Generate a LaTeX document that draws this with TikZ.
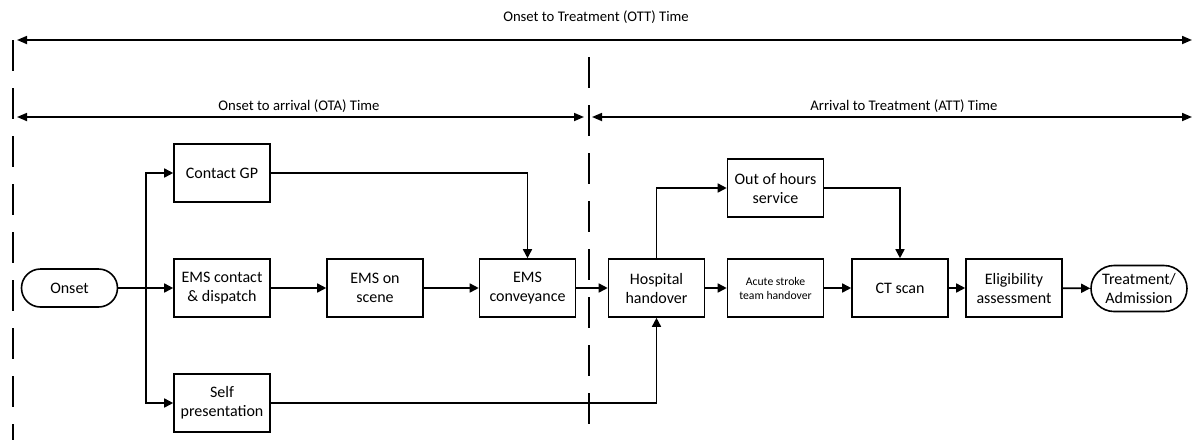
\documentclass[tikz,border=0pt]{standalone}
\usepackage{fontspec}
\setmainfont{Carlito}
\usetikzlibrary{arrows.meta}
\begin{document}
\begin{tikzpicture}[x=1pt,y=-1pt,
  line width=1.6pt,
  box/.style={draw,line width=1.6pt,minimum width=96pt,minimum height=58pt,align=center,inner sep=1pt,font=\fontsize{16}{19}\selectfont},
  pill/.style={draw,line width=1.6pt,rounded corners=19pt,minimum width=96pt,minimum height=38pt,align=center,inner sep=1pt,font=\fontsize{16}{19}\selectfont},
  flow/.style={-{Triangle[length=9pt,width=9pt]},line width=1.6pt},
  span/.style={{Triangle[length=10pt,width=8pt]}-{Triangle[length=10pt,width=8pt]},line width=1.7pt},
  divider/.style={line width=1.7pt,dash pattern=on 31pt off 17pt},
  lbl/.style={font=\fontsize{14.7}{17}\selectfont,inner sep=0pt}]
\useasboundingbox (0,0) rectangle (1193,445);

% time spans
\coordinate (ottL) at (17,40);
\coordinate (ottR) at (1192,40);
\coordinate (otaL) at (17,117);
\coordinate (otaR) at (584,117);
\coordinate (attL) at (592,117);
\coordinate (attR) at (1192,117);
\draw[span] (ottL) -- (ottR);
\draw[span] (otaL) -- (otaR);
\draw[span] (attL) -- (attR);
\node[lbl] (ott) at (596,17) {Onset to Treatment (OTT) Time};
\node[lbl] (ota) at (299,106) {Onset to arrival (OTA) Time};
\node[lbl] (att) at (904,106) {Arrival to Treatment (ATT) Time};

% dividers
\coordinate (d1t) at (13,40);
\coordinate (d1b) at (13,440);
\coordinate (d2t) at (589,57);
\coordinate (d2b) at (589,432);
\draw[divider] (d1t) -- (d1b);
\draw[divider] (d2t) -- (d2b);

% nodes
\node[pill] (onset) at (69.5,288) {Onset};
\node[box] (gp) at (222,173) {Contact GP};
\node[box] (ems) at (222,288) {EMS contact\\ \& dispatch};
\node[box] (self) at (222,403) {Self\\ presentation};
\node[box] (scene) at (375,288) {EMS on\\ scene};
\node[box] (conv) at (527.5,288) {EMS\\ conveyance};
\node[box] (hosp) at (656.5,288) {Hospital\\ handover};
\node[box] (ooh) at (775.5,188) {Out of hours\\ service};
\node[box,font=\fontsize{11.7}{14}\selectfont] (acute) at (775.5,288) {Acute stroke\\ team handover};
\node[box] (ct) at (900,288) {CT scan};
\node[box] (elig) at (1014,288) {Eligibility\\ assessment};
\node[pill,minimum height=46pt,rounded corners=23pt] (treat) at (1139,288.5) {Treatment/\\ Admission};

% connectors
\coordinate (br) at (146,288);
\draw (onset.east) -- (br);
\draw[flow] (br) -- (ems.west);
\draw[flow] (br) |- (gp.west);
\draw[flow] (br) |- (self.west);
\draw[flow] (ems) -- (scene);
\draw[flow] (scene) -- (conv);
\draw[flow] (gp.east) -| (conv.north);
\draw[flow] (conv) -- (hosp);
\draw[flow] (self.east) -| (hosp.south);
\draw[flow] (hosp.north) |- (ooh.west);
\draw[flow] (hosp) -- (acute);
\draw[flow] (ooh.east) -| (ct.north);
\draw[flow] (acute) -- (ct);
\draw[flow] (ct) -- (elig);
\draw[flow] (elig) -- (treat);
\end{tikzpicture}
\end{document}
